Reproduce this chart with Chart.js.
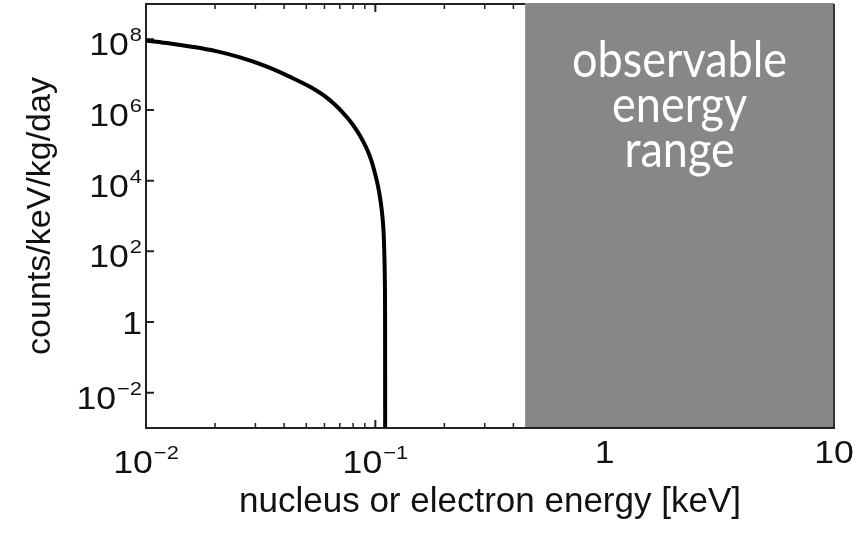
<!DOCTYPE html>
<html>
<head>
<meta charset="utf-8">
<script src="https://cdn.jsdelivr.net/npm/chart.js@4.4.1/dist/chart.umd.min.js"></script>
<style>
  body { margin: 0; background: #fff; }
  #wrap { width: 862px; height: 535px; position: relative; }
</style>
</head>
<body>
<div id="wrap"><canvas id="rateChart"></canvas></div>
<script>
// energia (keV) e rate (counts/keV/kg/day)
const energy = [0.0100, 0.01273, 0.01555, 0.0200, 0.0257, 0.03304, 0.04246, 0.0519, 0.06157, 0.06673,
                0.0716, 0.07679, 0.08155, 0.08576, 0.08928, 0.09295, 0.09579, 0.0987, 0.1017, 0.1038,
                0.1059, 0.1075, 0.1086, 0.1094, 0.1100, 0.1103, 0.1104];
const rate = [9.31e7, 7.66e7, 6.30e7, 4.70e7, 3.08e7, 1.77e7, 8.67e6, 4.52e6, 2.21e6, 1.40e6,
              8.90e5, 5.29e5, 3.14e5, 1.87e5, 1.15e5, 6.59e4, 3.92e4, 2.05e4, 9.37e3, 4.89e3,
              2.10e3, 901, 362, 98.7, 16.0, 0.62, 1e-4];

// tick degli assi
const xTickVals = [0.01, 0.1, 1, 10];
const xTickLabels = ['10^−2', '10^−1', '1', '10'];
const xMinorVals = [0.02, 0.03, 0.04, 0.05, 0.06, 0.07, 0.08, 0.09, 0.2, 0.3, 0.4];
const yTickVals = [1e-2, 1, 1e2, 1e4, 1e6, 1e8];
const yTickLabels = ['10^−2', '1', '10^2', '10^4', '10^6', '10^8'];

// zona osservabile
const observableFrom = 0.45;
const observableText = ['observable', 'energy', 'range'];

const tickFont = '"Liberation Sans", Arial, sans-serif';
const stretch = 1.15;

// disegna "10^n" con esponente in alto
function labelParts(label) {
    const p = label.split('^');
    return { base: p[0], exp: p[1] || null };
}
function measureLabel(ctx, parts) {
    ctx.font = `31px ${tickFont}`;
    let w = ctx.measureText(parts.base).width * stretch;
    if (parts.exp) {
        ctx.font = `19px ${tickFont}`;
        w += ctx.measureText(parts.exp).width * stretch + 1;
    }
    return w;
}
function drawStretched(ctx, text, x, y, sx) {
    ctx.save();
    ctx.translate(x, y);
    ctx.scale(sx, 1);
    ctx.fillText(text, 0, 0);
    ctx.restore();
}
function drawLabel(ctx, parts, left, baseline) {
    ctx.textAlign = 'left';
    ctx.textBaseline = 'alphabetic';
    ctx.font = `31px ${tickFont}`;
    drawStretched(ctx, parts.base, left, baseline, stretch);
    if (parts.exp) {
        const bw = ctx.measureText(parts.base).width * stretch;
        ctx.font = `19px ${tickFont}`;
        drawStretched(ctx, parts.exp, left + bw + 1, baseline - 14, stretch);
    }
}

const framePlugin = {
    id: 'frame',
    beforeDatasetsDraw(chart) {
        const { ctx, chartArea: a, scales: { x, y } } = chart;
        const boxX = x.getPixelForValue(observableFrom);
        ctx.save();
        ctx.fillStyle = '#222';
        ctx.strokeStyle = '#222';
        ctx.lineWidth = 2;

        // tick interni
        ctx.beginPath();
        xTickVals.forEach(v => {
            const px = x.getPixelForValue(v);
            ctx.moveTo(px, a.bottom); ctx.lineTo(px, a.bottom - 8);
            ctx.moveTo(px, a.top); ctx.lineTo(px, a.top + 8);
        });
        yTickVals.forEach(v => {
            const py = y.getPixelForValue(v);
            ctx.moveTo(a.left, py); ctx.lineTo(a.left + 8, py);
        });
        ctx.stroke();
        ctx.lineWidth = 1.5;
        ctx.beginPath();
        xMinorVals.forEach(v => {
            const px = x.getPixelForValue(v);
            ctx.moveTo(px, a.bottom); ctx.lineTo(px, a.bottom - 5);
            ctx.moveTo(px, a.top); ctx.lineTo(px, a.top + 5);
        });
        ctx.stroke();

        // cornice
        ctx.lineWidth = 2;
        ctx.beginPath();
        ctx.moveTo(a.left, a.bottom); ctx.lineTo(a.left, a.top);
        ctx.lineTo(boxX, a.top);
        ctx.stroke();

        // zona grigia
        ctx.fillStyle = '#878787';
        ctx.fillRect(boxX, a.top - 1, a.right - boxX, a.bottom - a.top + 1);
        ctx.strokeStyle = '#333';
        ctx.beginPath();
        ctx.moveTo(a.right, a.top); ctx.lineTo(a.right, a.bottom);
        ctx.stroke();
        ctx.strokeStyle = '#222';
        ctx.beginPath();
        ctx.moveTo(a.left - 1, a.bottom); ctx.lineTo(a.right + 1, a.bottom);
        ctx.stroke();

        ctx.fillStyle = '#fff';
        ctx.font = '50px Lato, sans-serif';
        ctx.textAlign = 'center';
        ctx.textBaseline = 'alphabetic';
        const cx = (boxX + a.right) / 2;
        observableText.forEach((t, i) => drawStretched(ctx, t, cx, a.top + 73 + i * 45, 0.9));

        // etichette dei tick
        ctx.fillStyle = '#111';
        xTickVals.forEach((v, i) => {
            const parts = labelParts(xTickLabels[i]);
            const w = measureLabel(ctx, parts);
            const px = x.getPixelForValue(v);
            const base = parts.exp ? a.bottom + 45 : a.bottom + 35;
            drawLabel(ctx, parts, px - w / 2, base);
        });
        yTickVals.forEach((v, i) => {
            const parts = labelParts(yTickLabels[i]);
            const w = measureLabel(ctx, parts);
            const py = y.getPixelForValue(v);
            const base = parts.exp ? py + 16 : py + 12;
            drawLabel(ctx, parts, a.left - 4 - w, base);
        });
        ctx.restore();
    }
};

const ctx = document.getElementById('rateChart').getContext('2d');
const rateChart = new Chart(ctx, {
    type: 'line',
    data: {
        datasets: [{
            data: energy.map((e, i) => ({ x: e, y: rate[i] })),
            borderColor: '#000',
            borderWidth: 4,
            pointRadius: 0,
            cubicInterpolationMode: 'monotone',
            fill: false
        }]
    },
    options: {
        responsive: true,
        maintainAspectRatio: false,
        animation: false,
        layout: { padding: { top: 4, right: 28, left: 0, bottom: 0 } },
        plugins: { legend: { display: false }, tooltip: { enabled: false } },
        scales: {
            x: {
                type: 'logarithmic',
                min: 0.01,
                max: 10,
                grid: { display: false },
                border: { display: false },
                ticks: { display: false },
                title: {
                    display: true,
                    text: 'nucleus or electron energy [keV]',
                    color: '#111',
                    font: { family: tickFont, size: 35 },
                    padding: { top: 0, bottom: 12 }
                },
                afterFit: s => { s.height = 107; }
            },
            y: {
                type: 'logarithmic',
                min: 1e-3,
                max: 1e9,
                grid: { display: false },
                border: { display: false },
                ticks: { display: false },
                title: {
                    display: true,
                    text: 'counts/keV/kg/day',
                    color: '#111',
                    font: { family: tickFont, size: 34 },
                    padding: { top: 20, bottom: 0 }
                },
                afterFit: s => { s.width = 146; }
            }
        }
    },
    plugins: [framePlugin]
});
</script>
</body>
</html>
